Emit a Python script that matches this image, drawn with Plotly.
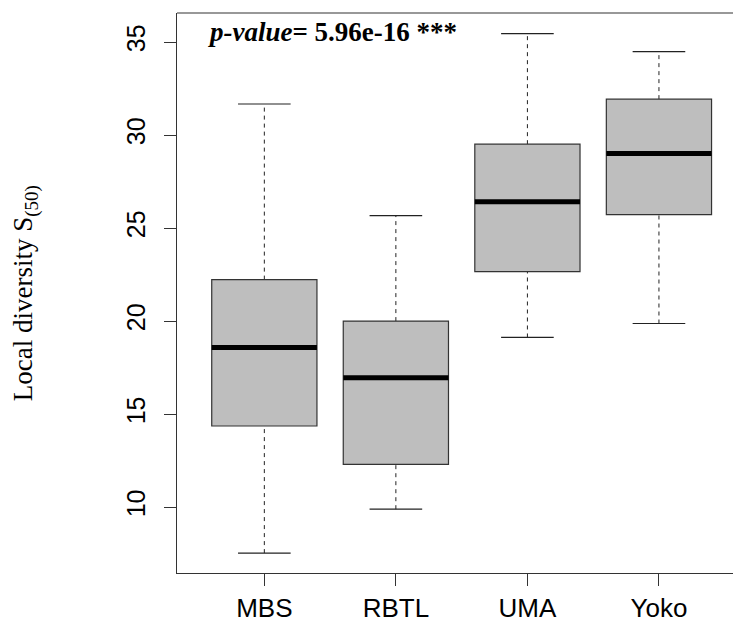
import plotly.graph_objects as go

categories = ["MBS", "RBTL", "UMA", "Yoko"]
lower_whisker = [7.53, 9.89, 19.12, 19.87]
q1 = [14.36, 12.30, 22.66, 25.72]
median = [18.58, 16.96, 26.42, 29.01]
q3 = [22.23, 20.00, 29.51, 31.93]
upper_whisker = [31.67, 25.67, 35.45, 34.48]
y_ticks = [10, 15, 20, 25, 30, 35]

box_w = 0.8
cap_w = 0.4
line_col = "#333333"

fig = go.Figure()
shapes = []
for i, cat in enumerate(categories):
    xc = i + 1
    # whiskers (dashed)
    for a, b in [(q3[i], upper_whisker[i]), (lower_whisker[i], q1[i])]:
        fig.add_trace(go.Scatter(x=[xc, xc], y=[a, b], mode="lines",
                                 line=dict(color="#222222", width=1, dash="4px,4px"),
                                 showlegend=False, hoverinfo="skip"))
    # caps
    for v in [upper_whisker[i], lower_whisker[i]]:
        fig.add_trace(go.Scatter(x=[xc - cap_w / 2, xc + cap_w / 2], y=[v, v], mode="lines",
                                 line=dict(color="#222222", width=1.2),
                                 showlegend=False, hoverinfo="skip"))
    # box
    shapes.append(dict(type="rect", xref="x", yref="y",
                       x0=xc - box_w / 2, x1=xc + box_w / 2, y0=q1[i], y1=q3[i],
                       fillcolor="#BEBEBE", line=dict(color=line_col, width=1.2), layer="above"))
    # median
    shapes.append(dict(type="line", xref="x", yref="y",
                       x0=xc - box_w / 2, x1=xc + box_w / 2, y0=median[i], y1=median[i],
                       line=dict(color="black", width=5), layer="above"))

# top border of plot frame
shapes.append(dict(type="line", xref="paper", yref="paper", x0=0, x1=1, y0=1, y1=1,
                   line=dict(color=line_col, width=1.2)))

fig.update_layout(
    width=733, height=621,
    margin=dict(l=177, r=0, t=13, b=48, autoexpand=False),
    plot_bgcolor="white", paper_bgcolor="white",
    shapes=shapes,
    showlegend=False,
    xaxis=dict(range=[0.336, 4.563], tickmode="array", tickvals=[1, 2, 3, 4],
               ticktext=categories, showgrid=False, zeroline=False, automargin=False,
               showline=True, linecolor=line_col, linewidth=1.2,
               ticks="outside", ticklen=12, tickcolor=line_col, tickwidth=1.2,
               ticklabelstandoff=0,
               tickfont=dict(family="Liberation Sans, Arial", size=26, color="black")),
    yaxis=dict(range=[6.46, 36.56], tickmode="array", tickvals=y_ticks,
               showgrid=False, zeroline=False, automargin=False,
               showline=True, linecolor=line_col, linewidth=1.2,
               ticks="outside", ticklen=12, tickcolor=line_col, tickwidth=1.2,
               tickangle=-90, ticklabelstandoff=9,
               tickfont=dict(family="Liberation Sans, Arial", size=25, color="black")),
    annotations=[
        dict(text="<b><i>p-value</i>= 5.96e-16 ***</b>", xref="paper", yref="paper",
             x=0.052, y=0.966, xanchor="left", yanchor="middle", showarrow=False,
             font=dict(family="Liberation Serif, Times New Roman", size=27, color="black")),
        dict(text="Local diversity S<sub>(50)</sub>", xref="paper", yref="paper",
             x=-0.273, y=0.500, xanchor="center", yanchor="middle", textangle=-90,
             showarrow=False,
             font=dict(family="Liberation Serif, Times New Roman", size=27, color="black")),
    ],
)

fig.write_html("out.html", config={"displayModeBar": False},
               post_script="document.body.style.margin='0';document.body.style.overflow='hidden';")
